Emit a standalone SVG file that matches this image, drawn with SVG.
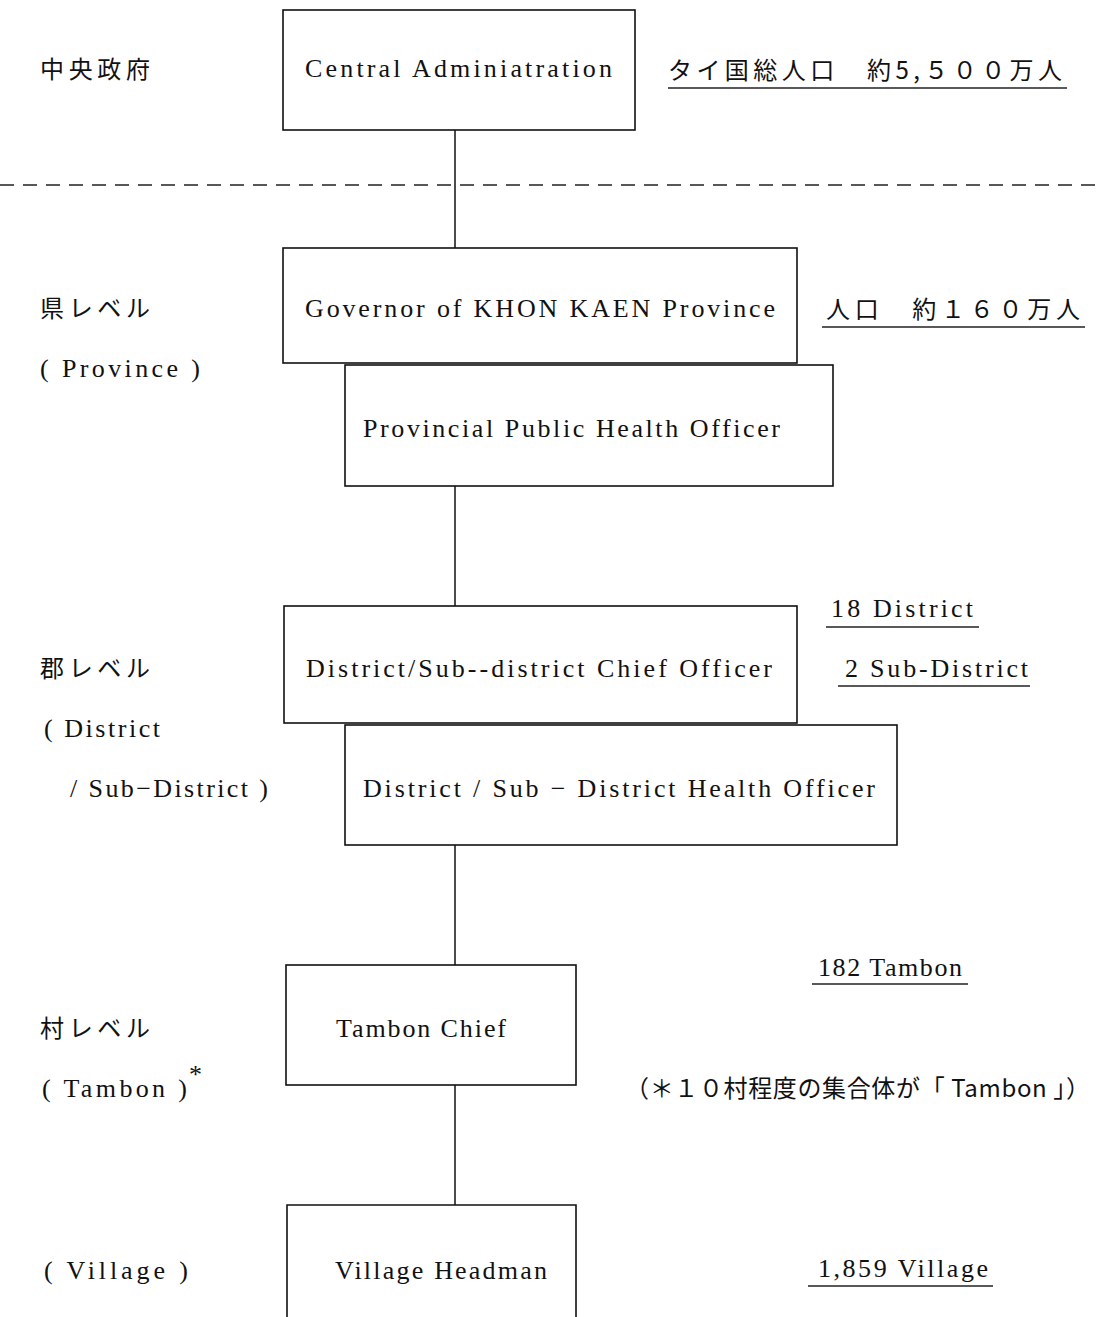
<svg xmlns="http://www.w3.org/2000/svg" width="1097" height="1317" viewBox="0 0 1097 1317">
  <style>
    .box { fill: #fff; stroke: #111; stroke-width: 1.6; }
    .link { stroke: #111; stroke-width: 1.5; fill: none; }
    .rule { stroke: #222; stroke-width: 1.4; }
    .en { font-family: "Liberation Serif", "Noto Sans CJK JP", serif; font-size: 26px; fill: #111; }
    .jp { font-family: "Noto Sans CJK JP", "Liberation Serif", sans-serif; font-size: 24px; fill: #111; }
  </style>
  <rect width="1097" height="1317" fill="#fff"/>

  <!-- connectors -->
  <g id="connectors">
    <line class="link" x1="455" y1="130" x2="455" y2="248"/>
    <line class="link" x1="455" y1="486" x2="455" y2="606"/>
    <line class="link" x1="455" y1="845" x2="455" y2="965"/>
    <line class="link" x1="455" y1="1085" x2="455" y2="1205"/>
  </g>

  <!-- central / local boundary -->
  <line id="boundary" x1="0" y1="185" x2="1097" y2="185" stroke="#222" stroke-width="1.5" stroke-dasharray="14 9"/>

  <!-- level labels (left column) -->
  <g id="levels">
    <text class="jp" x="40" y="78" textLength="110" lengthAdjust="spacing">中央政府</text>
    <text class="jp" x="40" y="317" textLength="110" lengthAdjust="spacing">県レベル</text>
    <text class="en" x="40" y="377" textLength="160" lengthAdjust="spacing">( Province )</text>
    <text class="jp" x="40" y="677" textLength="110" lengthAdjust="spacing">郡レベル</text>
    <text class="en" x="44" y="737" textLength="116" lengthAdjust="spacing">( District</text>
    <text class="en" x="70" y="797" textLength="198" lengthAdjust="spacing">/ Sub−District )</text>
    <text class="jp" x="40" y="1037" textLength="110" lengthAdjust="spacing">村レベル</text>
    <text class="en" x="42" y="1097" textLength="145" lengthAdjust="spacing">( Tambon )</text>
    <text class="en" x="189" y="1083" font-size="19">*</text>
    <text class="en" x="44" y="1279" textLength="144" lengthAdjust="spacing">( Village )</text>
  </g>

  <!-- nodes -->
  <g id="central">
    <rect class="box" x="283" y="10" width="352" height="120"/>
    <text class="en" x="305" y="77" textLength="307" lengthAdjust="spacing">Central Adminiatration</text>
  </g>

  <g id="governor">
    <rect class="box" x="283" y="248" width="514" height="115"/>
    <text class="en" x="305" y="317" textLength="470" lengthAdjust="spacing">Governor of KHON KAEN Province</text>
  </g>

  <g id="provincial-health">
    <rect class="box" x="345" y="365" width="488" height="121"/>
    <text class="en" x="363" y="437" textLength="417" lengthAdjust="spacing">Provincial Public Health Officer</text>
  </g>

  <g id="district-chief">
    <rect class="box" x="284" y="606" width="513" height="117"/>
    <text class="en" x="306" y="677" textLength="466" lengthAdjust="spacing">District/Sub--district Chief Officer</text>
  </g>

  <g id="district-health">
    <rect class="box" x="345" y="725" width="552" height="120"/>
    <text class="en" x="363" y="797" textLength="512" lengthAdjust="spacing">District / Sub − District Health Officer</text>
  </g>

  <g id="tambon-chief">
    <rect class="box" x="286" y="965" width="290" height="120"/>
    <text class="en" x="336" y="1037" textLength="170" lengthAdjust="spacing">Tambon Chief</text>
  </g>

  <g id="village-headman">
    <path class="box" d="M287 1330 V1205 H576 V1330"/>
    <text class="en" x="335" y="1279" textLength="212" lengthAdjust="spacing">Village Headman</text>
  </g>

  <!-- counts and notes (right column) -->
  <g id="notes">
    <text class="jp" x="668" y="79" textLength="394" lengthAdjust="spacing">タイ国総人口　約5,５００万人</text>
    <line class="rule" x1="668" y1="88" x2="1067" y2="88"/>

    <text class="jp" x="826" y="318" textLength="254" lengthAdjust="spacing">人口　約１６０万人</text>
    <line class="rule" x1="822" y1="327" x2="1085" y2="327"/>

    <text class="en" x="831" y="617" textLength="142" lengthAdjust="spacing">18 District</text>
    <line class="rule" x1="826" y1="627" x2="979" y2="627"/>

    <text class="en" x="845" y="677" textLength="183" lengthAdjust="spacing">2 Sub-District</text>
    <line class="rule" x1="838" y1="686" x2="1030" y2="686"/>

    <text class="en" x="818" y="976" textLength="144" lengthAdjust="spacing">182 Tambon</text>
    <line class="rule" x1="812" y1="984" x2="968" y2="984"/>

    <text class="jp" x="625" y="1097" textLength="465" lengthAdjust="spacing">（＊１０村程度の集合体が「 Tambon 」）</text>

    <text class="en" x="818" y="1277" textLength="170" lengthAdjust="spacing">1,859 Village</text>
    <line class="rule" x1="808" y1="1286" x2="993" y2="1286"/>
  </g>
</svg>
